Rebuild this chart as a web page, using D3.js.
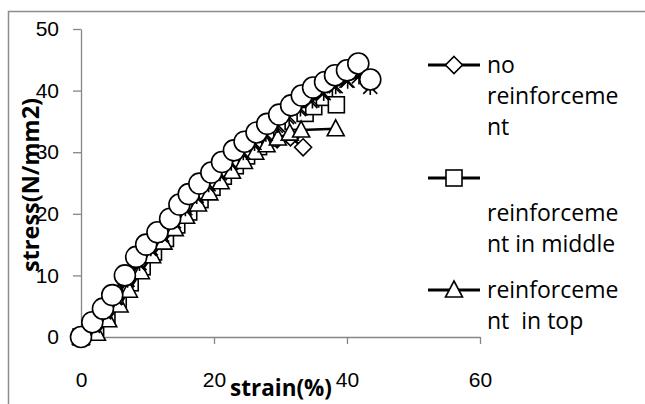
<!DOCTYPE html>
<html>
<head>
<meta charset="utf-8">
<script src="https://cdn.jsdelivr.net/npm/d3@7"></script>
<style>
  body { margin: 0; background: #fff; }
  svg { display: block; font-family: "Open Sans", sans-serif; }
  .axis path, .axis line { stroke: #868686; stroke-width: 1.3; }
  .axis text { fill: #000; font-size: 21px; }
  .line { fill: none; stroke: #000; stroke-width: 2.5; }
  .mark { fill: #fff; stroke: #000; stroke-width: 1.6; }
</style>
</head>
<body>
<svg id="chart" width="645" height="404"></svg>
<script>
// data (strain %, stress N/mm2)
var noReinfStrain = [0, 2.0, 3.6, 5.3, 7.1, 8.9, 10.6, 12.3, 14.1, 15.8, 17.5, 19.2, 20.9, 22.6, 24.3, 26.0, 27.7, 29.5, 31.5, 33.4]
var noReinfStress = [0, 1.2, 3.4, 5.8, 8.6, 11.3, 13.6, 15.8, 18.0, 20.2, 22.1, 24.0, 25.8, 27.5, 29.1, 30.5, 31.6, 32.1, 32.4, 30.8]

var middleStrain = [0, 2.2, 3.9, 5.6, 7.4, 9.2, 10.9, 12.7, 14.4, 16.2, 17.9, 19.7, 21.4, 23.2, 24.9, 26.7, 28.4, 30.2, 31.9, 33.7, 35.0, 36.6, 38.4]
var middleStress = [0, 1.6, 3.6, 6.0, 8.8, 11.4, 13.8, 16.0, 18.2, 20.3, 22.3, 24.3, 26.1, 27.8, 29.4, 30.9, 32.3, 33.7, 35.0, 36.3, 37.4, 38.9, 37.7]

var topStrain = [0, 2.4, 4.1, 5.8, 7.2, 9.0, 10.7, 12.4, 14.1, 15.8, 17.6, 19.3, 21.0, 22.7, 24.5, 26.2, 27.9, 29.6, 31.4, 33.1, 38.3]
var topStress = [0, 0.6, 2.8, 5.2, 7.6, 10.6, 13.2, 15.4, 17.6, 19.6, 21.6, 23.4, 25.2, 26.9, 28.5, 30.0, 31.2, 32.3, 33.1, 33.6, 33.8]

var xSeriesStrain = [0, 1.8, 3.5, 5.1, 6.9, 8.6, 10.3, 12.0, 13.8, 15.5, 17.2, 18.9, 20.6, 22.4, 24.1, 25.8, 27.6, 29.3, 31.0, 32.8, 34.5, 36.2, 38.0, 39.9]
var xSeriesStress = [0, 1.8, 4.0, 6.3, 9.2, 11.9, 14.3, 16.5, 18.7, 20.8, 22.8, 24.7, 26.5, 28.2, 29.9, 31.4, 32.9, 34.3, 35.7, 37.0, 38.3, 39.6, 40.7, 41.6]

var starStrain = [0, 1.9, 3.6, 5.3, 7.0, 8.8, 10.5, 12.2, 14.0, 15.7, 17.4, 19.2, 20.9, 22.6, 24.4, 26.1, 27.8, 29.6, 31.3, 33.0, 34.8, 36.5, 38.3, 40.1, 41.8, 43.5]
var starStress = [0, 2.0, 4.2, 6.4, 9.3, 12.0, 14.4, 16.6, 18.8, 20.9, 22.9, 24.8, 26.6, 28.3, 30.0, 31.5, 33.0, 34.4, 35.8, 37.1, 38.4, 39.6, 40.7, 41.6, 42.3, 40.6]

var circleStrain = [0, 1.7, 3.3, 4.7, 6.6, 8.3, 9.8, 11.5, 13.4, 14.8, 16.2, 17.8, 19.6, 21.2, 23.0, 24.6, 26.4, 28.0, 29.8, 31.6, 33.2, 34.9, 36.7, 38.2, 40.0, 41.7, 43.5]
var circleStress = [0, 2.4, 4.6, 6.8, 10.0, 13.0, 15.0, 17.0, 19.2, 21.5, 23.2, 24.9, 26.7, 28.4, 30.3, 31.7, 33.2, 34.6, 36.1, 37.6, 39.2, 40.5, 41.4, 42.5, 43.3, 44.4, 41.8]

var xTicks = [0, 20, 40, 60]
var yTicks = [0, 10, 20, 30, 40, 50]

var series = [
    {name: "no reinforcement", marker: "diamond", xs: noReinfStrain, ys: noReinfStress},
    {name: "reinforcement in middle", marker: "square", xs: middleStrain, ys: middleStress},
    {name: "reinforcement  in top", marker: "triangle", xs: topStrain, ys: topStress},
    {name: "", marker: "cross", xs: xSeriesStrain, ys: xSeriesStress},
    {name: "", marker: "star", xs: starStrain, ys: starStress},
    {name: "", marker: "circle", xs: circleStrain, ys: circleStress}
]

// legend text is wrapped the way the picture shows it
var legendItems = [
    {marker: "diamond", lineY: 65, lines: [["no", 65], ["reinforceme", 96], ["nt", 127]]},
    {marker: "square", lineY: 178, lines: [["reinforceme", 213], ["nt in middle", 244]]},
    {marker: "triangle", lineY: 290, lines: [["reinforceme", 290], ["nt  in top", 321]]}
]

var svg = d3.select("#chart")

// chart area frame (only top and left edges fall inside the window)
svg.append("rect")
    .attr("x", 8.5).attr("y", 11.5)
    .attr("width", 700).attr("height", 500)
    .attr("fill", "none")
    .attr("stroke", "#8c8c8c")
    .attr("stroke-width", 1.5)

var x = d3.scaleLinear().domain([0, 60]).range([81, 480])
var y = d3.scaleLinear().domain([0, 50]).range([337, 29])

// axes
var xAxis = svg.append("g")
    .attr("class", "axis")
    .attr("transform", "translate(0,337)")
    .call(d3.axisBottom(x).tickValues(xTicks).tickSize(7).tickSizeOuter(0).tickPadding(39))
xAxis.selectAll("text").attr("dy", "0.2em")

svg.append("g")
    .attr("class", "axis")
    .attr("transform", "translate(81,0)")
    .call(d3.axisLeft(y).tickValues(yTicks).tickSize(8).tickSizeOuter(0).tickPadding(14))

// axis titles
svg.append("text")
    .attr("x", 281).attr("y", 396)
    .attr("text-anchor", "middle")
    .style("font-size", "22.5px").style("font-weight", "bold")
    .text("strain(%)")

svg.append("text")
    .attr("transform", "translate(39,185) rotate(-90)")
    .attr("text-anchor", "middle")
    .style("font-size", "23.5px").style("font-weight", "bold")
    .text("stress(N/mm2)")

function drawMarker(g, type, cx, cy) {
    if (type === "circle")
        g.append("circle").attr("class", "mark").attr("cx", cx).attr("cy", cy).attr("r", 10.5)
    else if (type === "diamond")
        g.append("path").attr("class", "mark")
            .attr("d", "M" + cx + "," + (cy - 8.5) + "L" + (cx + 8.5) + "," + cy + "L" + cx + "," + (cy + 8.5) + "L" + (cx - 8.5) + "," + cy + "Z")
    else if (type === "square")
        g.append("rect").attr("class", "mark").attr("x", cx - 8).attr("y", cy - 8).attr("width", 16).attr("height", 16)
    else if (type === "triangle")
        g.append("path").attr("class", "mark")
            .attr("d", "M" + cx + "," + (cy - 9) + "L" + (cx + 8.5) + "," + (cy + 7) + "L" + (cx - 8.5) + "," + (cy + 7) + "Z")
    else if (type === "cross" || type === "star") {
        var d = "M" + (cx - 7) + "," + (cy - 7) + "L" + (cx + 7) + "," + (cy + 7) +
                "M" + (cx + 7) + "," + (cy - 7) + "L" + (cx - 7) + "," + (cy + 7)
        if (type === "star")
            d += "M" + cx + "," + (cy - 8) + "L" + cx + "," + (cy + 8)
        g.append("path").attr("d", d).attr("stroke", "#000").attr("stroke-width", 1.6).attr("fill", "none")
    }
}

var line = d3.line()
    .x(function(d) { return x(d[0]) })
    .y(function(d) { return y(d[1]) })

var plot = svg.append("g")
series.forEach(function(s) {
    var pts = s.xs.map(function(v, i) { return [v, s.ys[i]] })
    var g = plot.append("g")
    g.append("path").datum(pts).attr("class", "line").attr("d", line)
    pts.forEach(function(p) { drawMarker(g, s.marker, x(p[0]), y(p[1])) })
})

// legend
var legend = svg.append("g")
legendItems.forEach(function(item) {
    legend.append("line")
        .attr("x1", 428).attr("x2", 480)
        .attr("y1", item.lineY).attr("y2", item.lineY)
        .attr("stroke", "#000").attr("stroke-width", 3)
    drawMarker(legend, item.marker, 454, item.lineY)
    item.lines.forEach(function(l) {
        legend.append("text")
            .attr("x", 487).attr("y", l[1] + 8)
            .style("font-size", "23px")
            .style("white-space", "pre")
            .text(l[0])
    })
})
</script>
</body>
</html>
